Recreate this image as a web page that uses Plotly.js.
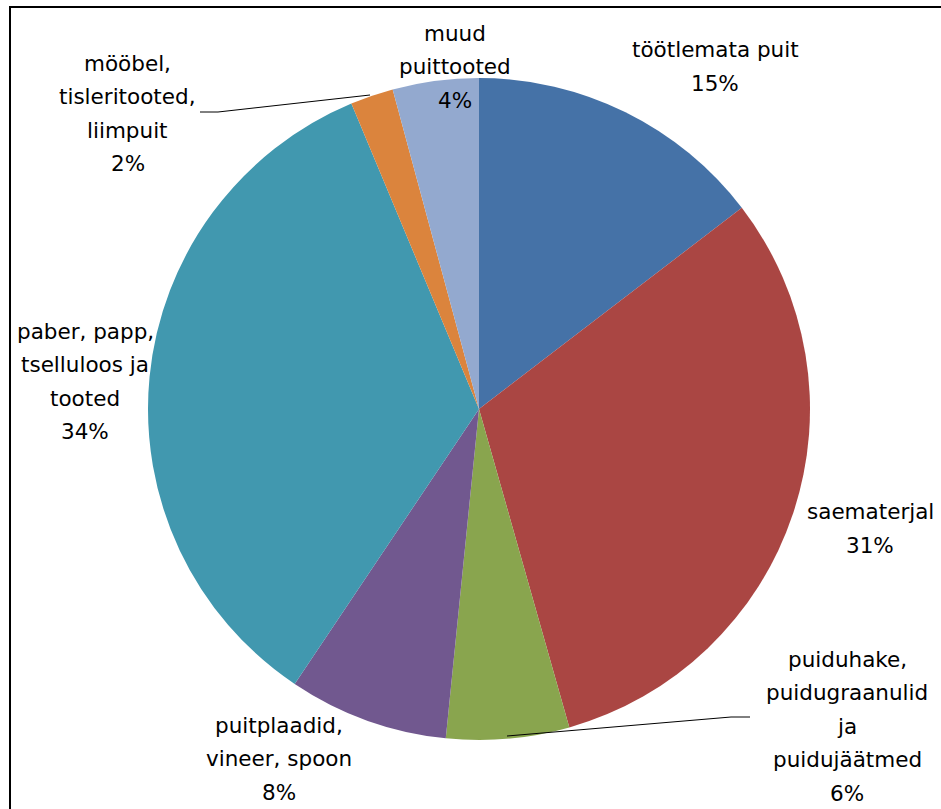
<!DOCTYPE html>
<html>
<head>
<meta charset="utf-8">
<script src="https://cdn.plot.ly/plotly-3.0.1.min.js"></script>
<style>html,body{margin:0;padding:0;background:#fff;}#chart{width:941px;height:809px;}</style>
</head>
<body>
<div id="chart"></div>
<script>
// ---- data ----
const categories = [
  "töötlemata puit",
  "saematerjal",
  "puiduhake, puidugraanulid ja puidujäätmed",
  "puitplaadid, vineer, spoon",
  "paber, papp, tselluloos ja tooted",
  "mööbel, tisleritooted, liimpuit",
  "muud puittooted"
];
const values = [14.6, 31.0, 6.0, 7.8, 34.3, 2.1, 4.2];
const colors = ["#4572A7", "#AA4643", "#89A54E", "#71588F", "#4198AF", "#DB843D", "#93A9CF"];

// label wrapping (text layout)
const labelLines = [
  ["töötlemata puit"],
  ["saematerjal"],
  ["puiduhake,", "puidugraanulid", "ja", "puidujäätmed"],
  ["puitplaadid,", "vineer, spoon"],
  ["paber, papp,", "tselluloos ja", "tooted"],
  ["mööbel,", "tisleritooted,", "liimpuit"],
  ["muud", "puittooted"]
];
// label block anchor (px): center x, first line y
const labelPos = [[715, 50], [870, 512], [847, 659], [279, 725], [85, 331], [128, 63], [455, 33]];
const lineGap = 33.5;

const W = 941, H = 809;
const cx = 479, cy = 409, R = 331;

const total = values.reduce((a, b) => a + b, 0);
const annotations = [];
labelLines.forEach((lines, i) => {
  const all = lines.concat([Math.round(values[i] / total * 100) + "%"]);
  all.forEach((t, j) => {
    annotations.push({
      text: t, showarrow: false, xref: "paper", yref: "paper",
      x: labelPos[i][0] / W, y: 1 - (labelPos[i][1] + j * lineGap) / H,
      xanchor: "center", yanchor: "middle",
      font: {family: "DejaVu Sans", size: 21.5, color: "#000"}
    });
  });
});

function path(pts) {
  return pts.map((p, k) => (k ? "L" : "M") + (p[0] / W) + "," + (1 - p[1] / H)).join(" ");
}

const shapes = [
  {type: "rect", xref: "paper", yref: "paper", x0: 10 / W, x1: 1.05, y0: -0.05, y1: 1 - 7 / H,
   line: {color: "#000", width: 2}, fillcolor: "rgba(0,0,0,0)"},
  {type: "path", xref: "paper", yref: "paper", path: path([[200, 112], [218, 112], [370, 95]]),
   line: {color: "#000", width: 1}},
  {type: "path", xref: "paper", yref: "paper", path: path([[507, 736], [731, 717], [750, 717]]),
   line: {color: "#000", width: 1}}
];

const trace = {
  type: "pie",
  labels: categories,
  values: values,
  sort: false,
  direction: "clockwise",
  rotation: 0,
  textinfo: "none",
  hoverinfo: "label+percent",
  marker: {colors: colors, line: {width: 0}},
  domain: {x: [(cx - R) / W, (cx + R) / W], y: [(H - cy - R) / H, (H - cy + R) / H]},
  showlegend: false
};

Plotly.newPlot("chart", [trace], {
  width: W, height: H,
  margin: {l: 0, r: 0, t: 0, b: 0},
  paper_bgcolor: "#fff",
  showlegend: false,
  annotations: annotations,
  shapes: shapes
}, {staticPlot: true});
</script>
</body>
</html>
